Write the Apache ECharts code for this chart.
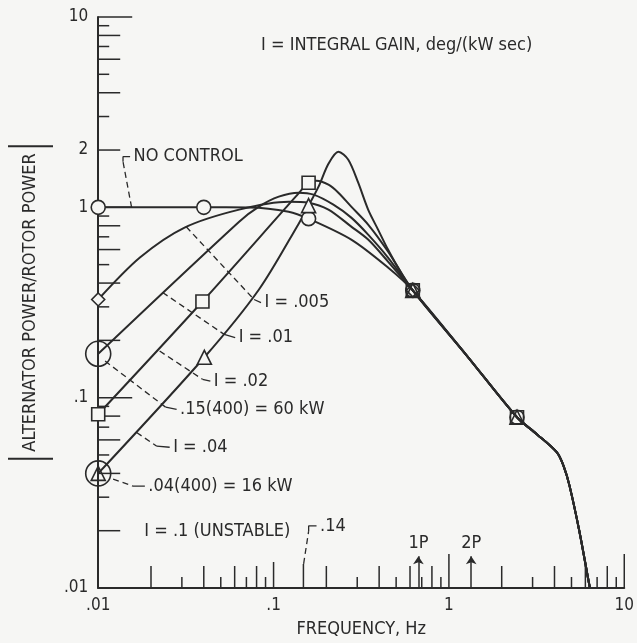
<!DOCTYPE html>
<html>
<head>
<meta charset="utf-8">
<script src="https://cdn.jsdelivr.net/npm/echarts@6/dist/echarts.min.js"></script>
<style>
html,body{margin:0;padding:0;background:#f6f6f4;}
#chart{width:637px;height:643px;}
</style>
</head>
<body>
<div id="chart"></div>
<script>
// [frequency Hz, |alternator power / rotor power|]
const noControl = [[0.01,1.0],[0.04,1.0],[0.0725,0.998],[0.122,0.949],[0.1584,0.872],[0.2774,0.677],[0.4493,0.483]]
const gain005 = [[0.01,0.328],[0.01729,0.545],[0.03107,0.783],[0.06363,0.973],[0.1221,1.071],[0.1584,1.058],[0.2056,0.973],[0.2774,0.792],[0.3462,0.677],[0.4493,0.519]]
const gain01 = [[0.01,0.17],[0.06363,0.841],[0.08256,1.009],[0.1071,1.138],[0.1391,1.194],[0.1691,1.166],[0.2194,1.033],[0.2774,0.883],[0.3462,0.719],[0.4493,0.545]]
const gain02 = [[0.01,0.0818],[0.03929,0.32],[0.1337,1.138],[0.1584,1.347],[0.1758,1.38],[0.2056,1.315],[0.2342,1.194],[0.2774,1.009],[0.3462,0.812],[0.4493,0.586]]
const gain04 = [[0.01,0.04],[0.04032,0.163],[0.08256,0.37],[0.1391,0.821],[0.1584,1.021],[0.1805,1.284],[0.2056,1.695],[0.2342,1.96],[0.2668,1.779],[0.3039,1.347],[0.3462,0.973],[0.3944,0.764],[0.4493,0.6],[0.5322,0.455]]
// all curves share this high-frequency part
const tail = [[0.6223,0.366],[1.274,0.165],[2.445,0.0789],[3.172,0.0643],[4.118,0.0517],[4.51,0.0437],[4.878,0.0343],[5.556,0.0197],[6.329,0.0103],[6.581,0.0088]]

// plotted symbols
const circleMarks = [[0.01,1.0],[0.04,1.0],[0.1584,0.872]]
const squareMarks = [[0.01,0.0818],[0.0393,0.32],[0.1584,1.347]]
const triangleMarks = [[0.0403,0.163],[0.1584,1.021]]
const diamondMarks = [[0.01,0.328]]
const ringMarks = [[0.01,0.17],[0.01,0.04]]
const openTriangleMarks = [[0.01,0.04]]
const mergeMarks = [[0.6223,0.366],[2.445,0.0789]]

// axis ticks
const xTicks = [0.02,0.03,0.04,0.05,0.06,0.07,0.08,0.09,0.1,0.148,0.2,0.3,0.4,0.5,0.6,0.7,0.8,0.9,1,2,3,4,5,6,7,8,9,10]
const yTicks = [0.02,0.03,0.04,0.05,0.06,0.07,0.08,0.09,0.1,0.2,0.3,0.4,0.5,0.6,0.7,0.8,0.9,1,2,3,4,5,6,7,8,9,10]
const yLabelVals = [0.01,0.1,1,2,10]

// leader lines (dashed) and their small solid hooks
const leaders = [
  [[0.0155,1.0],[0.01385,1.737]],
  [[0.03177,0.79],[0.0774,0.328]],
  [[0.0233,0.357],[0.0523,0.215]],
  [[0.0224,0.1758],[0.0393,0.1249]],
  [[0.01095,0.1557],[0.02425,0.0891]],
  [[0.01656,0.0656],[0.02158,0.0556]],
  [[0.01216,0.0373],[0.01578,0.0343]],
  [[0.1484,0.0134],[0.1585,0.0199]]
]
const hooks = [
  [[0.01385,1.737],[0.01385,1.845],[0.0152,1.845]],
  [[0.0774,0.328],[0.0848,0.316]],
  [[0.0523,0.215],[0.0604,0.207]],
  [[0.0393,0.1249],[0.0436,0.122]],
  [[0.02425,0.0891],[0.028,0.0869]],
  [[0.02158,0.0556],[0.02556,0.0549]],
  [[0.01578,0.0343],[0.01845,0.0343]],
  [[0.1585,0.0199],[0.1585,0.0212],[0.1758,0.0212]]
]
const notes = [
  ['NO CONTROL',[0.0152,1.845]],
  ['I = .005',[0.0848,0.316]],
  ['I = .01',[0.0604,0.207]],
  ['I = .02',[0.0436,0.122]],
  ['.15(400) = 60 kW',[0.028,0.0869]],
  ['I = .04',[0.02556,0.0549]],
  ['.04(400) = 16 kW',[0.01845,0.0343]],
  ['I = .1 (UNSTABLE)',[0.0175,0.0199]],
  ['.14',[0.1758,0.0212]]
]
const harmonics = [['1P',0.67],['2P',1.34]]
const arrowTop = 0.0147

const ink = '#2a2a2a'
const paper = '#f6f6f4'
const font = "'Liberation Sans Narrow', 'Arial Narrow', 'DejaVu Sans Condensed', sans-serif"

function fmt(v){
  let s = String(Number(v.toPrecision(3)))
  return v < 1 ? s.replace(/^0/, '') : s
}
function tickLen(v, axis){
  const e = Math.floor(Math.log10(v) + 1e-9)
  const m = Math.round(v / Math.pow(10, e) * 100) / 100
  if (m === 1) return (axis === 'x' && v < 0.5) ? 26 : 34
  if (!Number.isInteger(m)) return 24
  return m % 2 === 0 ? 22 : 11
}
function marks(data, symbol, size, fill){
  return {
    type:'scatter', data:data, symbol:symbol, symbolSize:size, z:4, silent:true,
    itemStyle:{color:fill, borderColor:ink, borderWidth:1.6, opacity:1}
  }
}

const series = []
;[noControl, gain005, gain01, gain02, gain04].forEach(c => {
  series.push({
    type:'line', data:c.concat(tail), smooth:0.3, symbol:'none', z:2,
    lineStyle:{color:ink, width:2}
  })
})
leaders.forEach(l => series.push({
  type:'line', data:l, symbol:'none', z:2, lineStyle:{color:ink, width:1.3, type:[6,4]}
}))
hooks.forEach(l => series.push({
  type:'line', data:l, symbol:'none', z:2, lineStyle:{color:ink, width:1.3}
}))
series.push(
  marks(circleMarks,'circle',14,paper),
  marks(squareMarks,'rect',13,paper),
  marks(triangleMarks,'triangle',14,paper),
  marks(diamondMarks,'diamond',13,paper),
  marks(ringMarks,'circle',25,'rgba(0,0,0,0)'),
  marks(openTriangleMarks,'triangle',14,'rgba(0,0,0,0)'),
  marks(mergeMarks,'circle',14,'rgba(0,0,0,0)'),
  marks(mergeMarks,'rect',13,'rgba(0,0,0,0)'),
  marks(mergeMarks,'triangle',14,'rgba(0,0,0,0)'),
  marks([mergeMarks[0]],'diamond',13,'rgba(0,0,0,0)')
)
// tick marks drawn inward from both axes
series.push({
  type:'custom', silent:true, z:3, clip:false,
  data:xTicks.map(v => [v, 0.01]),
  renderItem:(params, api) => {
    const v = api.value(0)
    const p = api.coord([v, 0.01])
    return {type:'line', shape:{x1:p[0], y1:p[1], x2:p[0], y2:p[1] - tickLen(v, 'x')}, style:{stroke:ink, lineWidth:1.5}}
  }
})
series.push({
  type:'custom', silent:true, z:3, clip:false,
  data:yTicks.map(v => [0.01, v]),
  renderItem:(params, api) => {
    const v = api.value(1)
    const p = api.coord([0.01, v])
    return {type:'line', shape:{x1:p[0], y1:p[1], x2:p[0] + tickLen(v, 'y'), y2:p[1]}, style:{stroke:ink, lineWidth:1.5}}
  }
})
series.push({
  type:'lines', coordinateSystem:'cartesian2d', silent:true, z:3,
  symbol:['none','arrow'], symbolSize:[0,8],
  lineStyle:{color:ink, width:1.5, opacity:1},
  data:harmonics.map(h => ({coords:[[h[1],0.01],[h[1],arrowTop]]}))
})
const textLabel = {show:true, color:ink, fontSize:18, fontFamily:font, formatter:'{b}'}
series.push({
  type:'scatter', silent:true, symbolSize:1, z:5, itemStyle:{color:'rgba(0,0,0,0)', opacity:1},
  data:notes.map(n => ({name:n[0], value:n[1]})),
  label:Object.assign({position:'right', distance:3}, textLabel)
})
series.push({
  type:'scatter', silent:true, symbolSize:1, z:5, itemStyle:{color:'rgba(0,0,0,0)', opacity:1},
  data:harmonics.map(h => ({name:h[0], value:[h[1], arrowTop]})),
  label:Object.assign({position:'top', distance:3}, textLabel)
})

const option = {
  backgroundColor:paper,
  animation:false,
  title:{
    text:'I = INTEGRAL GAIN, deg/(kW sec)',
    left:256, top:31,
    textStyle:{color:ink, fontSize:18, fontWeight:'normal', fontFamily:font}
  },
  grid:{left:98, right:9, top:17, bottom:54},
  xAxis:{
    type:'log', logBase:10, min:0.01, max:10,
    axisLine:{onZero:false, lineStyle:{color:ink, width:2}},
    axisTick:{show:false},
    splitLine:{show:false},
    axisLabel:{color:ink, fontSize:17, fontFamily:font, margin:9, formatter:fmt},
    name:'FREQUENCY, Hz', nameLocation:'middle', nameGap:32,
    nameTextStyle:{color:ink, fontSize:18, fontFamily:font}
  },
  yAxis:{
    type:'log', logBase:10, min:0.01, max:10,
    axisLine:{onZero:false, lineStyle:{color:ink, width:2}},
    axisTick:{show:false},
    splitLine:{show:false},
    axisLabel:{color:ink, fontSize:17, fontFamily:font, margin:10, formatter:fmt, customValues:yLabelVals},
    name:'{bar| }{gap| }ALTERNATOR POWER/ROTOR POWER{gap| }{bar| }',
    nameLocation:'middle', nameRotate:90, nameGap:42,
    nameTextStyle:{
      color:ink, fontSize:18, fontFamily:font,
      rich:{
        bar:{width:2, height:45, backgroundColor:ink, fontSize:2, verticalAlign:'middle'},
        gap:{width:6, fontSize:2}
      }
    }
  },
  series:series
}

const myChart = echarts.init(document.getElementById('chart'))
myChart.setOption(option)
window.addEventListener('resize', () => { myChart.resize() })
</script>
</body>
</html>
